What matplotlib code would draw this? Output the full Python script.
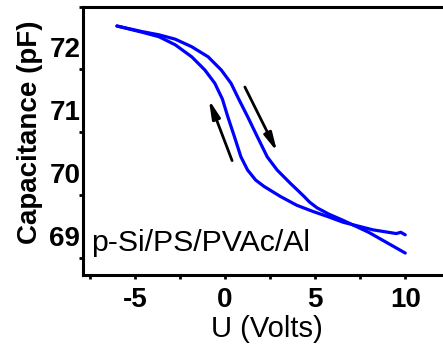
import matplotlib
matplotlib.use("Agg")
import matplotlib.pyplot as plt
from matplotlib.transforms import ScaledTranslation

# ---- data ----
fwd_v = [-6.0, -4.59, -3.67, -2.76, -1.85, -0.94, -0.21, 0.33, 0.79, 1.25, 1.79, 2.34,
         2.89, 3.62, 4.35, 4.69, 5.1, 5.75, 6.55, 7.97, 10.0]
fwd_c = [72.69, 72.60, 72.55, 72.48, 72.36, 72.20, 71.99, 71.78, 71.51, 71.25, 70.93, 70.61,
         70.40, 70.19, 69.99, 69.89, 69.80, 69.70, 69.60, 69.41, 69.08]

rev_v = [10.0, 9.75, 9.5, 8.19, 6.55, 5.7, 4.89, 3.98, 3.07, 2.16, 1.70, 1.25, 0.88, 0.52,
         0.15, -0.15, -0.57, -1.12, -1.85, -2.76, -3.67, -4.59, -6.0]
rev_c = [69.37, 69.41, 69.39, 69.45, 69.57, 69.66, 69.74, 69.84, 69.98, 70.14, 70.24, 70.40,
         70.61, 70.93, 71.25, 71.53, 71.78, 71.99, 72.20, 72.39, 72.52, 72.59, 72.69]

x_major = [-5, 0, 5, 10]
x_minor = [-7.5, -2.5, 2.5, 7.5, 12.5]
y_major = [69, 70, 71, 72, 73]
y_labels = ["69", "70", "71", "72", ""]

# arrows (tail, head) in data coordinates
arrow_left = ((0.39, 70.55), (-0.90, 71.52))
arrow_right = ((1.10, 71.72), (2.89, 70.69))

sample_label = "p-Si/PS/PVAc/Al"

plt.rcParams['font.family'] = ['Liberation Sans', 'DejaVu Sans']
plt.rcParams['axes.unicode_minus'] = False

fig = plt.figure(figsize=(4.43, 3.47), dpi=100)
W, H = 443, 347
left_px, right_px, top_px, bot_px = 82.7, 450.3, 6.5, 274.5
ax = fig.add_axes([left_px / W, (H - bot_px) / H, (right_px - left_px) / W, (bot_px - top_px) / H])

ax.plot(fwd_v, fwd_c, color='#0000ff', lw=2.3, solid_capstyle='round', solid_joinstyle='round')
ax.plot(rev_v, rev_c, color='#0000ff', lw=2.3, solid_capstyle='round', solid_joinstyle='round')

for tail, head in (arrow_left, arrow_right):
    ax.annotate('', xy=head, xytext=tail,
                arrowprops=dict(arrowstyle='-|>,head_width=0.2,head_length=0.9',
                                mutation_scale=12, lw=2.0, color='k',
                                shrinkA=0, shrinkB=0))

ax.set_xlim(-7.9, 12.2)
ax.set_ylim(68.739, 73.0)
ax.set_xticks(x_major)
ax.set_xticks(x_minor, minor=True)
ax.set_yticks(y_major)
ax.set_yticklabels(y_labels)

for s in ax.spines.values():
    s.set_linewidth(2.2)
ax.spines['right'].set_visible(False)

ax.tick_params(axis='x', which='major', direction='out', length=3.2, width=2.0,
               labelsize=20, pad=6)
ax.tick_params(axis='x', which='minor', direction='out', length=3.0, width=2.0)
ax.tick_params(axis='y', which='major', direction='out', length=3.2, width=2.0,
               labelsize=20, pad=-1.5)
for lab in ax.get_xticklabels() + ax.get_yticklabels():
    lab.set_fontweight('bold')

# tick labels on the y axis sit above their tick marks in the reference
offset = ScaledTranslation(0, 22 / 100, fig.dpi_scale_trans)
for t in ax.yaxis.get_major_ticks():
    t.label1.set_transform(t.label1.get_transform() + offset)

ax.set_ylabel("Capacitance (pF)", fontsize=20, fontweight='bold')
ax.yaxis.set_label_coords((43 - left_px) / (right_px - left_px), (bot_px - 132.5) / (bot_px - top_px))
ax.set_xlabel("U (Volts)", fontsize=21)
ax.xaxis.set_label_coords(0.5, (bot_px - 343) / (bot_px - top_px))
ax.xaxis.label.set_va('bottom')

ax.text((91 - left_px) / (right_px - left_px), (bot_px - 251) / (bot_px - top_px), sample_label,
        transform=ax.transAxes, fontsize=21.8, ha='left', va='baseline')

fig.savefig("out.png", dpi=100)
